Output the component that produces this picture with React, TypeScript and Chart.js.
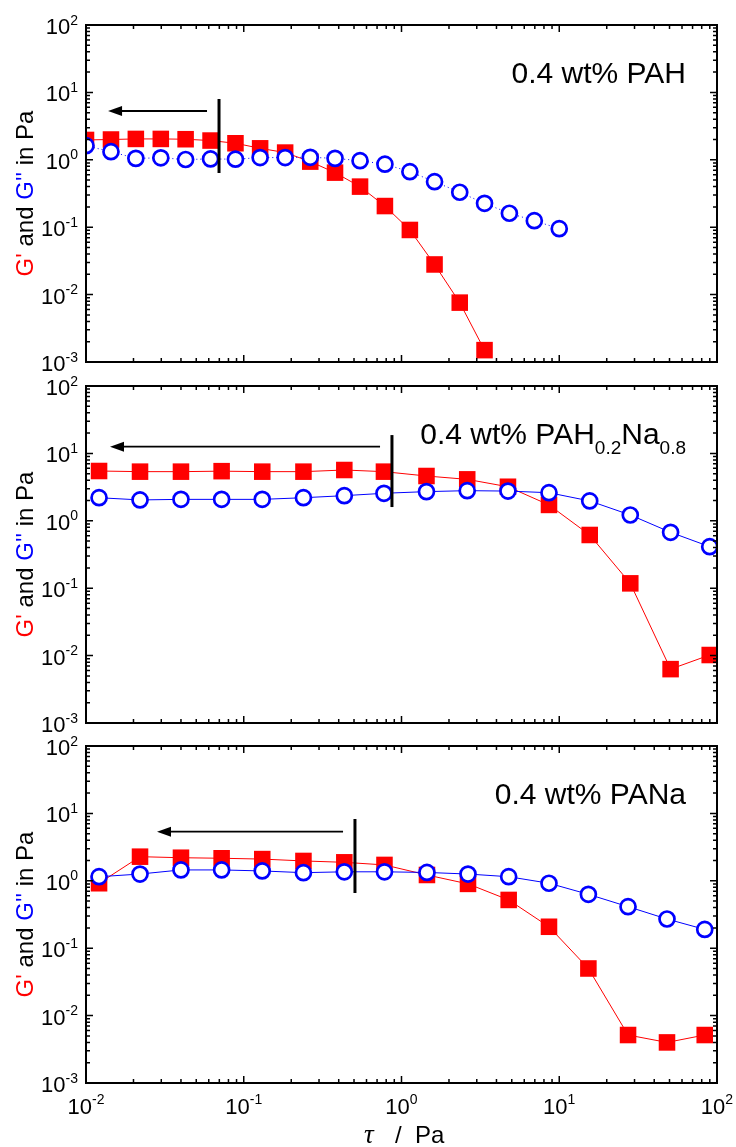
import React, { useEffect, useRef } from "react";
import { Chart, registerables } from "chart.js";

Chart.register(...registerables);

// ---------- data ----------
// Panel 1: 0.4 wt% PAH
const tauPAH = [0.01, 0.0144, 0.0207, 0.0298, 0.0428, 0.0616, 0.0886, 0.127, 0.183, 0.264, 0.379, 0.546, 0.785, 1.13, 1.62, 2.34, 3.36, 4.83, 6.95, 10.0];
const gPrimePAH = [1.97, 2.0, 2.04, 2.04, 2.02, 1.93, 1.76, 1.48, 1.28, 0.94, 0.645, 0.4, 0.206, 0.091, 0.028, 0.0076, 0.0015];
const gDoublePrimePAH = [1.62, 1.32, 1.05, 1.07, 1.01, 1.03, 1.02, 1.08, 1.08, 1.09, 1.05, 0.97, 0.86, 0.667, 0.473, 0.33, 0.226, 0.161, 0.125, 0.095];

// Panel 2: 0.4 wt% PAH0.2Na0.8
const tauPAHNa = [0.0121, 0.022, 0.04, 0.0724, 0.131, 0.239, 0.434, 0.774, 1.44, 2.61, 4.73, 8.61, 15.6, 28.2, 50.8, 89.9];
const gPrimePAHNa = [5.48, 5.36, 5.36, 5.45, 5.36, 5.36, 5.67, 5.36, 4.62, 4.12, 3.2, 1.72, 0.616, 0.118, 0.0063, 0.0102];
const gDoublePrimePAHNa = [2.2, 2.04, 2.08, 2.08, 2.08, 2.2, 2.36, 2.56, 2.71, 2.8, 2.76, 2.61, 1.97, 1.22, 0.675, 0.413];

// Panel 3: 0.4 wt% PANa
const tauPANa = [0.0121, 0.022, 0.04, 0.0724, 0.131, 0.239, 0.434, 0.78, 1.45, 2.64, 4.78, 8.61, 15.3, 27.3, 48.2, 83.6];
const gPrimePANa = [0.92, 2.28, 2.2, 2.16, 2.1, 1.97, 1.88, 1.72, 1.22, 0.9, 0.52, 0.208, 0.05, 0.00515, 0.004, 0.00515];
const gDoublePrimePANa = [1.15, 1.26, 1.45, 1.45, 1.4, 1.32, 1.36, 1.36, 1.33, 1.26, 1.15, 0.92, 0.63, 0.413, 0.271, 0.19];

// Arrow annotations (data coordinates)
const arrowPAH = { from: 0.0585, to: 0.0138, y: 5.3, barX: 0.0697, barTop: 7.98, barBottom: 0.637 };
const arrowPAHNa = { from: 0.731, to: 0.0142, y: 12.6, barX: 0.87, barTop: 18.7, barBottom: 1.6 };
const arrowPANa = { from: 0.426, to: 0.0282, y: 5.35, barX: 0.507, barTop: 8.26, barBottom: 0.659 };

// Ticks
const xTickValues = [0.01, 0.1, 1, 10, 100];
const xTickExponents = ["-2", "-1", "0", "1", "2"];
const yTickValues = [0.001, 0.01, 0.1, 1, 10, 100];
const yTickExponents = ["-3", "-2", "-1", "0", "1", "2"];
const minorMultipliers = [2, 3, 4, 5, 6, 7, 8, 9];

// Labels
const labelPAH = [{ t: "0.4 wt% PAH", sub: false }];
const labelPAHNa = [
  { t: "0.4 wt% PAH", sub: false },
  { t: "0.2", sub: true },
  { t: "Na", sub: false },
  { t: "0.8", sub: true },
];
const labelPANa = [{ t: "0.4 wt% PANa", sub: false }];
const yTitleParts = [
  { t: "G'", c: "#ff0000" },
  { t: " and ", c: "#000000" },
  { t: "G''", c: "#0000ff" },
  { t: " in Pa", c: "#000000" },
];

const FONT = '"Liberation Sans", Arial, Helvetica, sans-serif';
const W = 736;
const H = 1147;
const PLOT_LEFT = 86;
const PLOT_RIGHT = 717;

type Arrow = { from: number; to: number; y: number; barX: number; barTop: number; barBottom: number };
type Panel = {
  tau: number[];
  gp: number[];
  gpp: number[];
  label: { t: string; sub: boolean }[];
  arrow: Arrow;
  top: number;
  bottom: number;
  showX: boolean;
  dotted: boolean;
};

const panels: Panel[] = [
  { tau: tauPAH, gp: gPrimePAH, gpp: gDoublePrimePAH, label: labelPAH, arrow: arrowPAH, top: 25, bottom: 362, showX: false, dotted: true },
  { tau: tauPAHNa, gp: gPrimePAHNa, gpp: gDoublePrimePAHNa, label: labelPAHNa, arrow: arrowPAHNa, top: 386, bottom: 723, showX: false, dotted: false },
  { tau: tauPANa, gp: gPrimePANa, gpp: gDoublePrimePANa, label: labelPANa, arrow: arrowPANa, top: 746, bottom: 1083, showX: true, dotted: false },
];

function framePlugin(panel: Panel) {
  return {
    id: "frame",
    afterDatasetsDraw(chart: any) {
      const ctx: CanvasRenderingContext2D = chart.ctx;
      const { left, right, top, bottom } = chart.chartArea;
      const xs = chart.scales.x;
      const ys = chart.scales.y;
      ctx.save();

      // ---- arrow annotation ----
      const a = panel.arrow;
      const ay = ys.getPixelForValue(a.y);
      const ax0 = xs.getPixelForValue(a.from);
      const ax1 = xs.getPixelForValue(a.to);
      const headLen = 14;
      const headHalf = 5;
      ctx.strokeStyle = "#000";
      ctx.fillStyle = "#000";
      ctx.lineWidth = 1.8;
      ctx.beginPath();
      ctx.moveTo(ax0, ay);
      ctx.lineTo(ax1 + headLen - 1, ay);
      ctx.stroke();
      ctx.beginPath();
      ctx.moveTo(ax1, ay);
      ctx.lineTo(ax1 + headLen, ay - headHalf);
      ctx.lineTo(ax1 + headLen, ay + headHalf);
      ctx.closePath();
      ctx.fill();
      const bx = xs.getPixelForValue(a.barX);
      ctx.lineWidth = 3;
      ctx.beginPath();
      ctx.moveTo(bx, ys.getPixelForValue(a.barTop));
      ctx.lineTo(bx, ys.getPixelForValue(a.barBottom));
      ctx.stroke();

      // ---- ticks ----
      ctx.lineWidth = 1.5;
      const majorLen = 7;
      const minorLen = 4;
      const drawX = (v: number, len: number) => {
        const px = xs.getPixelForValue(v);
        ctx.beginPath();
        ctx.moveTo(px, bottom);
        ctx.lineTo(px, bottom - len);
        ctx.moveTo(px, top);
        ctx.lineTo(px, top + len);
        ctx.stroke();
      };
      const drawY = (v: number, len: number) => {
        const py = ys.getPixelForValue(v);
        ctx.beginPath();
        ctx.moveTo(left, py);
        ctx.lineTo(left + len, py);
        ctx.moveTo(right, py);
        ctx.lineTo(right - len, py);
        ctx.stroke();
      };
      xTickValues.forEach((v, i) => {
        drawX(v, majorLen);
        if (i < xTickValues.length - 1) minorMultipliers.forEach((m) => drawX(v * m, minorLen));
      });
      yTickValues.forEach((v, i) => {
        drawY(v, majorLen);
        if (i < yTickValues.length - 1) minorMultipliers.forEach((m) => drawY(v * m, minorLen));
      });

      // ---- frame ----
      ctx.lineWidth = 2;
      ctx.strokeRect(left, top, right - left, bottom - top);

      // ---- y tick labels ----
      ctx.fillStyle = "#000";
      ctx.textBaseline = "alphabetic";
      const baseFont = `22px ${FONT}`;
      const supFont = `14px ${FONT}`;
      yTickValues.forEach((v, i) => {
        const py = ys.getPixelForValue(v);
        const exp = yTickExponents[i];
        ctx.font = supFont;
        const we = ctx.measureText(exp).width;
        const xr = left - 8;
        ctx.textAlign = "left";
        ctx.fillText(exp, xr - we, py - 0.5);
        ctx.font = baseFont;
        const wb = ctx.measureText("10").width;
        ctx.fillText("10", xr - we - wb, py + 9);
      });

      // ---- x tick labels ----
      if (panel.showX) {
        xTickValues.forEach((v, i) => {
          const px = xs.getPixelForValue(v);
          const exp = xTickExponents[i];
          ctx.font = baseFont;
          const wb = ctx.measureText("10").width;
          ctx.font = supFont;
          const we = ctx.measureText(exp).width;
          const x0 = px - (wb + we) / 2;
          ctx.textAlign = "left";
          ctx.font = baseFont;
          ctx.fillText("10", x0, bottom + 31);
          ctx.font = supFont;
          ctx.fillText(exp, x0 + wb, bottom + 21);
        });
        // x axis title
        ctx.font = `italic 27px "Liberation Serif", "DejaVu Serif", serif`;
        ctx.fillText("τ", 364, bottom + 60);
        ctx.font = `24px ${FONT}`;
        ctx.fillText("/", 395, bottom + 60);
        ctx.fillText("Pa", 415, bottom + 60);
      }

      // ---- y axis title ----
      ctx.save();
      ctx.translate(33, (top + bottom) / 2);
      ctx.rotate(-Math.PI / 2);
      ctx.font = `24px ${FONT}`;
      ctx.textAlign = "left";
      let total = 0;
      yTitleParts.forEach((p) => (total += ctx.measureText(p.t).width));
      let cx = -total / 2;
      yTitleParts.forEach((p) => {
        ctx.fillStyle = p.c;
        ctx.fillText(p.t, cx, 0);
        cx += ctx.measureText(p.t).width;
      });
      ctx.restore();

      // ---- panel label ----
      ctx.fillStyle = "#000";
      ctx.textAlign = "left";
      const mainFont = `30px ${FONT}`;
      const subFont = `19px ${FONT}`;
      let lw = 0;
      panel.label.forEach((s) => {
        ctx.font = s.sub ? subFont : mainFont;
        lw += ctx.measureText(s.t).width;
      });
      let lx = 686 - lw;
      const ly = top + 57.5;
      panel.label.forEach((s) => {
        ctx.font = s.sub ? subFont : mainFont;
        ctx.fillText(s.t, lx, s.sub ? ly + 10 : ly);
        lx += ctx.measureText(s.t).width;
      });

      ctx.restore();
    },
  };
}

function makeChart(canvas: HTMLCanvasElement, panel: Panel) {
  const gpData = panel.gp.map((y, i) => ({ x: panel.tau[i], y }));
  const gppData = panel.gpp.map((y, i) => ({ x: panel.tau[i], y }));
  return new Chart(canvas, {
    type: "scatter",
    data: {
      datasets: [
        {
          label: "G''",
          data: gppData,
          showLine: true,
          borderColor: "#0000ff",
          borderWidth: 1,
          borderDash: panel.dotted ? [1, 3] : [],
          pointStyle: "circle",
          pointRadius: 7.5,
          pointBorderWidth: 2.7,
          pointBorderColor: "#0000ff",
          pointBackgroundColor: "#ffffff",
          clip: 0,
          order: 0,
        } as any,
        {
          label: "G'",
          data: gpData,
          showLine: true,
          borderColor: "#ff0000",
          borderWidth: 1,
          pointStyle: "rect",
          pointRadius: 11.7,
          pointBorderWidth: 0,
          pointBackgroundColor: "#ff0000",
          pointBorderColor: "#ff0000",
          clip: 0,
          order: 1,
        } as any,
      ],
    },
    options: {
      responsive: false,
      animation: false,
      events: [],
      layout: {
        padding: {
          left: PLOT_LEFT,
          right: W - PLOT_RIGHT,
          top: panel.top,
          bottom: H - panel.bottom,
        },
      },
      scales: {
        x: { type: "logarithmic", min: 0.01, max: 100, display: false },
        y: { type: "logarithmic", min: 0.001, max: 100, display: false },
      },
      plugins: {
        legend: { display: false },
        tooltip: { enabled: false },
        title: { display: false },
      },
    },
    plugins: [framePlugin(panel)],
  });
}

export default function App() {
  const refs = [useRef<HTMLCanvasElement>(null), useRef<HTMLCanvasElement>(null), useRef<HTMLCanvasElement>(null)];
  useEffect(() => {
    const charts = panels.map((p, i) => makeChart(refs[i].current as HTMLCanvasElement, p));
    return () => charts.forEach((c) => c.destroy());
  }, []);
  return (
    <div style={{ position: "absolute", left: 0, top: 0, width: W, height: H, background: "#fff", overflow: "hidden" }}>
      {refs.map((r, i) => (
        <canvas
          key={i}
          ref={r}
          width={W}
          height={H}
          style={{ position: "absolute", left: 0, top: 0, width: W, height: H }}
        />
      ))}
    </div>
  );
}
